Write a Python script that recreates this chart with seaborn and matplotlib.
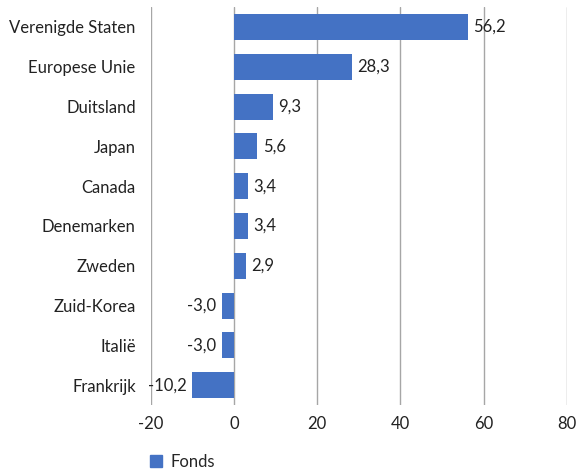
import matplotlib
matplotlib.use('Agg')
import matplotlib.pyplot as plt
import seaborn as sns
import pandas as pd
from matplotlib.patches import Patch

landen = ['Verenigde Staten', 'Europese Unie', 'Duitsland', 'Japan', 'Canada',
          'Denemarken', 'Zweden', 'Zuid-Korea', 'Italië', 'Frankrijk']
waarden = [56.2, 28.3, 9.3, 5.6, 3.4, 3.4, 2.9, -3.0, -3.0, -10.2]
x_ticks = [-20, 0, 20, 40, 60, 80]

sns.set_style('white')
plt.rcParams['font.family'] = ['Lato', 'DejaVu Sans']
fs = 12

kleur = '#4472C4'
tekstkleur = '#222222'
df = pd.DataFrame({'land': landen, 'waarde': waarden})

fig = plt.figure(figsize=(5.76, 4.70), dpi=100)
ax = fig.add_axes([0.262, 0.138, 0.722, 0.847])
sns.barplot(data=df, x='waarde', y='land', orient='h', color=kleur,
            width=0.65, saturation=1, linewidth=0, ax=ax)

ax.set_xlim(-20, 80)
ax.set_xticks(x_ticks)
ax.set_xticklabels([str(t) for t in x_ticks])
ax.grid(axis='x', color='#a6a6a6', linewidth=1)
ax.set_axisbelow(True)
for s in ax.spines.values():
    s.set_visible(False)
ax.set_xlabel('')
ax.set_ylabel('')
ax.tick_params(axis='y', length=0, pad=11, labelsize=fs, labelcolor=tekstkleur)
ax.tick_params(axis='x', length=0, pad=8, labelsize=fs, labelcolor=tekstkleur)

for i, v in enumerate(waarden):
    tekst = f'{v:.1f}'.replace('.', ',')
    if v >= 0:
        ax.text(v + 1.3, i, tekst, va='center', ha='left', fontsize=fs, color=tekstkleur)
    else:
        ax.text(v - 1.3, i, tekst, va='center', ha='right', fontsize=fs, color=tekstkleur)

fig.legend(handles=[Patch(color=kleur, label='Fonds')], loc='lower left',
           bbox_to_anchor=(0.234, -0.032), frameon=False, fontsize=fs,
           handlelength=0.75, handleheight=0.75, handletextpad=0.5)

fig.savefig('out.png', dpi=100)
